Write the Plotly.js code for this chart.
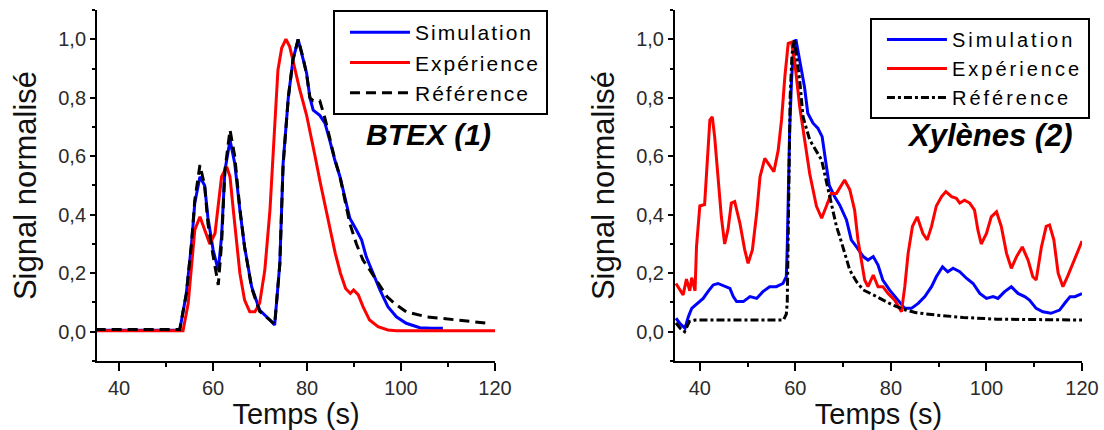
<!DOCTYPE html>
<html>
<head>
<meta charset="utf-8">
<script src="https://cdn.plot.ly/plotly-3.0.1.min.js"></script>
<style>
  html, body { margin: 0; padding: 0; background: #ffffff; }
  #chart { width: 1104px; height: 430px; }
  svg text.legendtext { letter-spacing: 2px; }
  svg text.legend2text { letter-spacing: 3px; }
</style>
</head>
<body>
<div id="chart"></div>
<script>
// ---------- Panel 1 : BTEX (1) ----------
const sim1_t = [35, 40, 45, 50, 52.9, 54.3, 55.4, 56.1, 57.2, 58.2, 58.9, 60.0, 61.1, 61.8, 62.5, 63.6, 64.6, 65.7, 66.7, 68.2, 69.9, 72.1, 73.1, 74.2, 74.9, 76.0, 77.0, 78.1, 79.1, 79.9, 80.6, 81.3, 82.7, 83.8, 84.8, 85.9, 87.0, 88.0, 89.1, 90.5, 91.6, 92.6, 94.0, 95.5, 97.2, 99.0, 101.1, 104.0, 106.5, 108.9];
const sim1_y = [0.005, 0.005, 0.005, 0.005, 0.006, 0.13, 0.30, 0.44, 0.53, 0.50, 0.39, 0.28, 0.21, 0.325, 0.55, 0.655, 0.576, 0.416, 0.29, 0.154, 0.074, 0.04, 0.023, 0.234, 0.576, 0.80, 0.93, 1.0, 0.94, 0.884, 0.80, 0.758, 0.74, 0.713, 0.656, 0.587, 0.53, 0.46, 0.388, 0.348, 0.314, 0.256, 0.20, 0.143, 0.086, 0.051, 0.029, 0.014, 0.012, 0.012];

const exp1_t = [35, 40, 45, 50, 53.6, 54.7, 55.4, 56.1, 57.2, 58.2, 59.3, 60.4, 61.1, 61.8, 62.9, 63.6, 64.3, 65.0, 65.7, 66.7, 67.8, 68.9, 69.9, 71.0, 72.1, 73.1, 73.8, 74.6, 75.5, 76.3, 77.4, 78.4, 79.9, 80.6, 81.7, 82.8, 83.9, 85.0, 86.0, 87.1, 88.2, 89.2, 89.9, 90.9, 91.9, 93.3, 95.1, 97.2, 99.0, 105, 110, 115, 120];
const exp1_y = [0.003, 0.003, 0.003, 0.003, 0.003, 0.097, 0.234, 0.348, 0.393, 0.348, 0.30, 0.336, 0.44, 0.53, 0.564, 0.53, 0.416, 0.30, 0.20, 0.108, 0.068, 0.068, 0.097, 0.21, 0.416, 0.70, 0.895, 0.97, 1.0, 0.975, 0.895, 0.83, 0.74, 0.69, 0.60, 0.51, 0.43, 0.348, 0.268, 0.20, 0.148, 0.131, 0.143, 0.126, 0.086, 0.04, 0.017, 0.006, 0.003, 0.003, 0.003, 0.003, 0.003];

const ref1_t = [35, 40, 45, 50, 52.9, 54.3, 55.4, 56.1, 57.2, 58.2, 58.9, 60.0, 61.1, 61.8, 62.5, 63.6, 64.6, 65.7, 66.7, 68.2, 69.9, 72.1, 73.1, 74.2, 74.9, 76.0, 77.0, 78.1, 79.1, 79.9, 80.6, 81.3, 82.7, 83.8, 84.8, 85.9, 87.0, 88.0, 89.1, 90.5, 91.9, 93.0, 95.5, 97.0, 98.6, 101.1, 105.4, 110.5, 115.4, 118];
const ref1_y = [0.008, 0.008, 0.008, 0.008, 0.008, 0.13, 0.30, 0.45, 0.57, 0.50, 0.37, 0.26, 0.16, 0.30, 0.55, 0.69, 0.60, 0.42, 0.29, 0.15, 0.07, 0.04, 0.025, 0.23, 0.57, 0.80, 0.93, 1.0, 0.94, 0.88, 0.80, 0.79, 0.79, 0.73, 0.66, 0.59, 0.53, 0.45, 0.37, 0.30, 0.245, 0.22, 0.155, 0.12, 0.097, 0.068, 0.051, 0.042, 0.034, 0.03];

// ---------- Panel 2 : Xylènes (2) ----------
const sim2_t = [35.0, 35.8, 36.9, 37.6, 38.3, 39.6, 40.7, 41.7, 42.8, 43.8, 45.2, 46.3, 47.0, 47.7, 49.1, 50.5, 51.9, 53.2, 54.6, 56.0, 57.4, 58.1, 58.3, 58.5, 58.8, 59.2, 59.5, 60.1, 60.9, 61.9, 62.6, 63.7, 64.7, 65.6, 66.4, 67.1, 68.2, 69.3, 70.7, 71.7, 72.8, 74.2, 75.2, 76.3, 77.3, 78.3, 79.7, 81.1, 82.9, 84.3, 85.7, 87.1, 88.5, 89.5, 90.8, 91.9, 93.0, 94.4, 95.8, 97.2, 98.6, 100.0, 101.4, 102.4, 103.8, 105.2, 106.6, 108.0, 109.0, 110.4, 111.8, 113.5, 115.3, 116.5, 117.5, 118.5, 120];
const sim2_y = [0.046, 0.029, 0.012, 0.051, 0.08, 0.097, 0.114, 0.137, 0.16, 0.165, 0.154, 0.148, 0.12, 0.103, 0.103, 0.12, 0.114, 0.137, 0.154, 0.154, 0.165, 0.188, 0.29, 0.51, 0.69, 0.86, 0.94, 1.0, 0.93, 0.838, 0.747, 0.713, 0.696, 0.667, 0.576, 0.50, 0.462, 0.433, 0.382, 0.314, 0.29, 0.257, 0.245, 0.257, 0.228, 0.177, 0.143, 0.114, 0.08, 0.08, 0.097, 0.12, 0.154, 0.188, 0.222, 0.205, 0.217, 0.205, 0.183, 0.165, 0.131, 0.114, 0.12, 0.114, 0.137, 0.154, 0.131, 0.12, 0.108, 0.08, 0.068, 0.063, 0.074, 0.10, 0.12, 0.12, 0.13];

const exp2_t = [35.0, 36.5, 37.2, 37.9, 38.3, 39.0, 39.3, 40.0, 41.0, 41.5, 42.1, 42.6, 43.1, 43.8, 44.5, 45.2, 45.9, 46.6, 47.3, 48.4, 49.4, 50.1, 51.0, 51.9, 52.6, 53.6, 54.6, 55.5, 56.4, 57.1, 57.8, 58.5, 59.2, 59.9, 60.9, 62.0, 63.0, 64.4, 65.5, 66.5, 67.5, 68.6, 70.3, 71.4, 72.4, 73.1, 73.8, 74.5, 75.2, 76.3, 77.3, 78.3, 79.4, 80.8, 82.2, 82.9, 83.6, 84.5, 85.5, 86.7, 87.6, 88.5, 89.5, 90.6, 91.5, 92.7, 93.7, 94.4, 95.4, 96.5, 97.5, 98.2, 98.9, 100.0, 101.0, 102.1, 103.1, 104.2, 105.2, 106.3, 107.5, 108.7, 109.7, 110.4, 111.5, 112.5, 113.2, 114.1, 115.0, 116.0, 117.0, 118.0, 119.0, 120.0];
const exp2_y = [0.165, 0.126, 0.18, 0.14, 0.185, 0.14, 0.29, 0.43, 0.435, 0.576, 0.724, 0.735, 0.667, 0.53, 0.393, 0.30, 0.35, 0.44, 0.445, 0.37, 0.28, 0.234, 0.28, 0.405, 0.53, 0.593, 0.57, 0.547, 0.62, 0.724, 0.872, 0.986, 0.99, 0.918, 0.77, 0.656, 0.54, 0.43, 0.388, 0.43, 0.473, 0.473, 0.519, 0.485, 0.416, 0.314, 0.245, 0.177, 0.154, 0.194, 0.154, 0.154, 0.131, 0.108, 0.068, 0.154, 0.268, 0.36, 0.393, 0.336, 0.314, 0.36, 0.43, 0.462, 0.479, 0.462, 0.456, 0.44, 0.45, 0.44, 0.416, 0.348, 0.30, 0.336, 0.393, 0.41, 0.36, 0.268, 0.217, 0.257, 0.29, 0.245, 0.188, 0.177, 0.29, 0.36, 0.365, 0.314, 0.20, 0.154, 0.19, 0.23, 0.27, 0.31];

const ref2_t = [35.0, 36.0, 36.8, 37.8, 39, 42, 46, 50, 54, 57.5, 58.1, 58.3, 58.6, 58.9, 59.3, 59.8, 60.9, 61.6, 63.0, 64.4, 65.5, 66.4, 67.5, 68.6, 69.3, 70.3, 71.4, 72.8, 74.2, 76.3, 78.3, 80.4, 82.5, 85.3, 89.5, 95.1, 102.1, 109, 116, 120];
const ref2_y = [0.03, 0.01, 0.0, 0.035, 0.04, 0.04, 0.042, 0.04, 0.04, 0.04, 0.06, 0.10, 0.45, 0.80, 0.95, 1.0, 0.86, 0.735, 0.656, 0.62, 0.587, 0.52, 0.44, 0.36, 0.325, 0.268, 0.21, 0.171, 0.143, 0.126, 0.108, 0.091, 0.077, 0.065, 0.057, 0.049, 0.043, 0.042, 0.041, 0.04];

const seriesNames = ['Simulation', 'Expérience', 'Référence'];
const panelLabels = ['BTEX (1)', 'Xylènes (2)'];
const xTitle = 'Temps (s)';
const yTitle = 'Signal normalisé';

const FONT = 'Liberation Sans, Arial, sans-serif';
const BLUE = '#0000ff', RED = '#ff0000', BLACK = '#000000';

function tr(x, y, name, color, dash, xa, ya, leg) {
  return {
    type: 'scatter', mode: 'lines', x: x, y: y, name: name,
    line: { color: color, width: 3, dash: dash },
    xaxis: xa, yaxis: ya, legend: leg, hoverinfo: 'skip'
  };
}

const data = [
  tr(sim1_t, sim1_y, seriesNames[0], BLUE, 'solid', 'x', 'y', 'legend'),
  tr(exp1_t, exp1_y, seriesNames[1], RED, 'solid', 'x', 'y', 'legend'),
  tr(ref1_t, ref1_y, seriesNames[2], BLACK, '10px,6px', 'x', 'y', 'legend'),
  tr(sim2_t, sim2_y, seriesNames[0], BLUE, 'solid', 'x2', 'y2', 'legend2'),
  tr(exp2_t, exp2_y, seriesNames[1], RED, 'solid', 'x2', 'y2', 'legend2'),
  tr(ref2_t, ref2_y, seriesNames[2], BLACK, '8px,3px,3px,3px', 'x2', 'y2', 'legend2')
];

function xAxis(domain, range, anchor) {
  return {
    domain: domain, range: range, anchor: anchor,
    showline: true, linecolor: BLACK, linewidth: 2,
    ticks: 'outside', ticklen: 8, tickwidth: 2, tickcolor: BLACK,
    tick0: 0, dtick: 20,
    minor: { dtick: 10, ticks: 'outside', ticklen: 4, tickwidth: 2, tickcolor: BLACK, showgrid: false },
    showgrid: false, zeroline: false,
    tickfont: { family: FONT, size: 20, color: '#2b2b2b' },
    title: { text: xTitle, font: { family: FONT, size: 29, color: '#111' }, standoff: 3 }
  };
}
function yAxis(domain, anchor) {
  return {
    domain: domain, range: [-0.1, 1.1], anchor: anchor,
    showline: true, linecolor: BLACK, linewidth: 2,
    ticks: 'outside', ticklen: 5, tickwidth: 2, tickcolor: BLACK,
    tick0: 0, dtick: 0.2, tickformat: '.1f',
    minor: { dtick: 0.1, ticks: 'outside', ticklen: 3, tickwidth: 2, tickcolor: BLACK, showgrid: false },
    showgrid: false, zeroline: false,
    tickfont: { family: FONT, size: 20, color: '#2b2b2b' },
    title: { text: yTitle, font: { family: FONT, size: 31, color: '#111' }, standoff: 12 }
  };
}

function legendBox(x, y, size) {
  return {
    x: x, y: y, xanchor: 'left', yanchor: 'top',
    bordercolor: BLACK, borderwidth: 2, bgcolor: '#ffffff',
    font: { family: FONT, size: size, color: BLACK },
    itemwidth: 60, indentation: 10, tracegroupgap: 0
  };
}

const layout = {
  width: 1104, height: 430,
  margin: { l: 0, r: 0, t: 0, b: 0 },
  paper_bgcolor: '#ffffff', plot_bgcolor: '#ffffff',
  separators: ', ',
  showlegend: true,
  xaxis: xAxis([0.0879, 0.4484], [35.3, 120], 'y'),
  yaxis: yAxis([0.1605, 0.9767], 'x'),
  xaxis2: xAxis([0.6114, 0.9801], [34.8, 120], 'y2'),
  yaxis2: yAxis([0.1605, 0.9767], 'x2'),
  legend: legendBox(0.3016, 0.9767, 21),
  legend2: legendBox(0.788, 0.958, 20),
  annotations: [
    { text: panelLabels[0], xref: 'paper', yref: 'paper', x: 0.3877, y: 0.688, xanchor: 'center', yanchor: 'middle',
      showarrow: false, font: { family: FONT, size: 30, weight: 'bold', style: 'italic', color: BLACK } },
    { text: panelLabels[1], xref: 'paper', yref: 'paper', x: 0.8967, y: 0.686, xanchor: 'center', yanchor: 'middle',
      showarrow: false, font: { family: FONT, size: 31, weight: 'bold', style: 'italic', color: BLACK } }
  ]
};

Plotly.newPlot('chart', data, layout, { staticPlot: true, displayModeBar: false });
</script>
</body>
</html>
